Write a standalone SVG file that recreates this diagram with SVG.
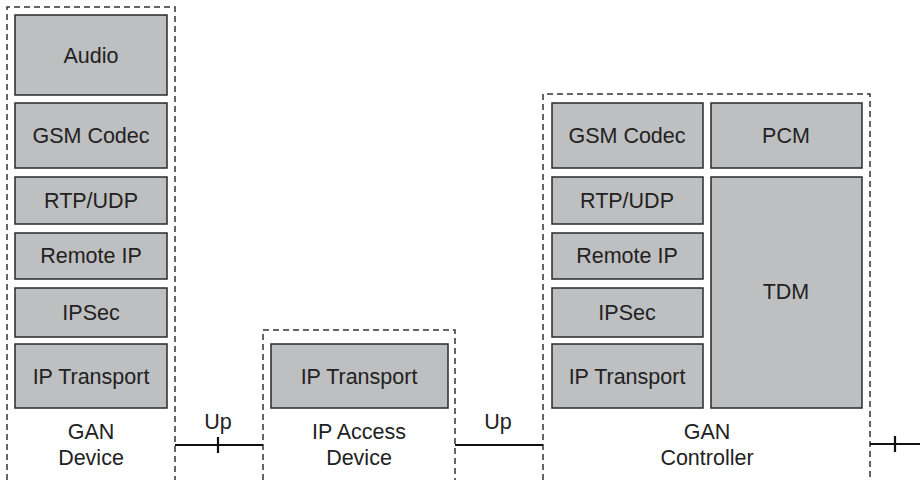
<svg xmlns="http://www.w3.org/2000/svg" width="920" height="480" viewBox="0 0 920 480">
<style>
.box{fill:#bebfc1;stroke:#2a2a2a;stroke-width:1.5}
.grp{fill:none;stroke:#333;stroke-width:1.5;stroke-dasharray:6 4}
.t{font-family:"Liberation Sans",Arial,sans-serif;font-size:21.5px;fill:#222;text-anchor:middle}
.ln{stroke:#111;stroke-width:2.2;fill:none}
</style>
<rect width="920" height="480" fill="#fff"/>
<g id="gan-device">
<path class="grp" d="M7,480 V7 H175 V480"/>
<rect class="box" x="15" y="15" width="152" height="80"/><text class="t" x="91" y="63">Audio</text>
<rect class="box" x="15" y="103" width="152" height="65"/><text class="t" x="91" y="143">GSM Codec</text>
<rect class="box" x="15" y="177" width="152" height="47"/><text class="t" x="91" y="208">RTP/UDP</text>
<rect class="box" x="15" y="233" width="152" height="46"/><text class="t" x="91" y="263">Remote IP</text>
<rect class="box" x="15" y="288" width="152" height="49"/><text class="t" x="91" y="320">IPSec</text>
<rect class="box" x="15" y="344" width="152" height="64"/><text class="t" x="91" y="384">IP Transport</text>
<text class="t" x="91" y="439">GAN</text>
<text class="t" x="91" y="465">Device</text>
</g>
<g id="ip-access">
<path class="grp" d="M263,480 V330 H455 V480"/>
<rect class="box" x="271" y="344" width="177" height="64"/><text class="t" x="359" y="384">IP Transport</text>
<text class="t" x="359" y="439">IP Access</text>
<text class="t" x="359" y="465">Device</text>
</g>
<g id="gan-controller">
<path class="grp" d="M543,480 V94 H870 V480"/>
<rect class="box" x="552" y="103" width="151" height="65"/><text class="t" x="627" y="143">GSM Codec</text>
<rect class="box" x="711" y="103" width="151" height="65"/><text class="t" x="786" y="143">PCM</text>
<rect class="box" x="552" y="177" width="151" height="47"/><text class="t" x="627" y="208">RTP/UDP</text>
<rect class="box" x="552" y="233" width="151" height="46"/><text class="t" x="627" y="263">Remote IP</text>
<rect class="box" x="552" y="288" width="151" height="49"/><text class="t" x="627" y="320">IPSec</text>
<rect class="box" x="552" y="344" width="151" height="64"/><text class="t" x="627" y="384">IP Transport</text>
<rect class="box" x="711" y="177" width="151" height="231"/><text class="t" x="786" y="299">TDM</text>
<text class="t" x="707" y="439">GAN</text>
<text class="t" x="707" y="465">Controller</text>
</g>
<g id="connectors">
<path class="ln" d="M175,445 H263 M218,437 V453"/>
<text class="t" x="218" y="429">Up</text>
<path class="ln" d="M455,445 H543"/>
<text class="t" x="498" y="429">Up</text>
<path class="ln" d="M870,444 H920 M895,436 V452"/>
</g>
</svg>
